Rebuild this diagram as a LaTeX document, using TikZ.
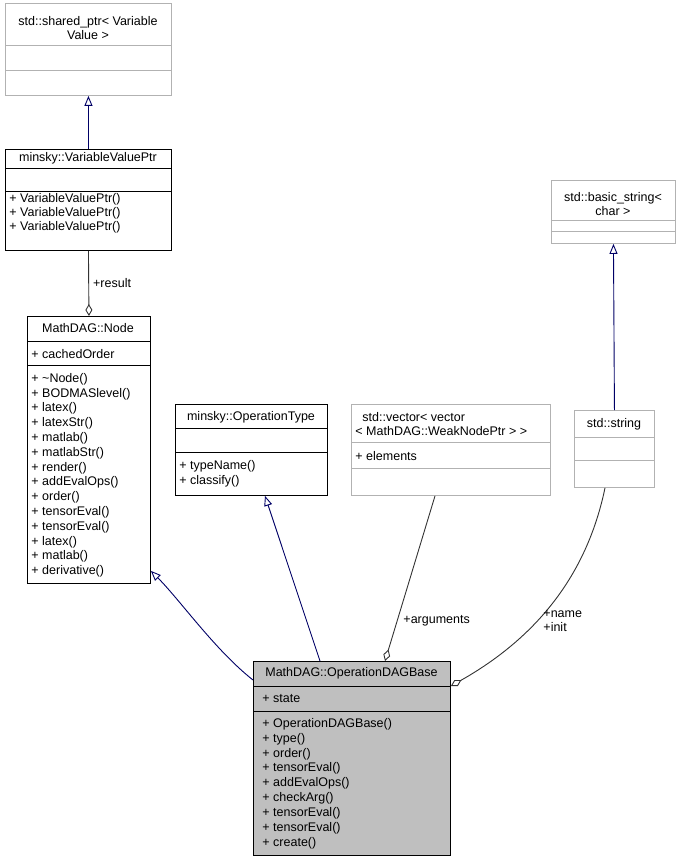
\documentclass[tikz,border=0pt]{standalone}
\usepackage{fontspec}
\setmainfont{Liberation Sans}
\usetikzlibrary{arrows.meta}
\tikzset{
  cls/.style={draw=black, anchor=north west, inner sep=0pt, fill=white},
  ext/.style={cls, draw=gray!60},
  txt/.style={anchor=west, inner sep=0pt, font=\fontsize{12.5}{14}\selectfont},
  ttl/.style={anchor=center, inner sep=0pt, font=\fontsize{12.5}{14}\selectfont, align=center},
  inh/.style={draw=blue!40!black, -{Triangle[open, length=10pt, width=8pt]}},
  agg/.style={draw=gray!40!black, -{Diamond[open, length=12pt, width=7pt]}},
  lbl/.style={inner sep=0pt, font=\fontsize{12.5}{14}\selectfont, align=left},
}
\begin{document}
\begin{tikzpicture}[x=1pt,y=-1pt,line width=0.9pt]
\useasboundingbox (0,0) rectangle (681,861);
% std::shared_ptr
\node[ext, minimum width=166pt, minimum height=92pt] (sptr) at (5,3) {};
\node[ttl] (sptrT) at (88,28) {std::shared\_ptr< Variable\\Value >};
\draw[gray!60] (5,45) -- (171,45) (5,70) -- (171,70);
% minsky::VariableValuePtr
\node[cls, minimum width=166pt, minimum height=101pt] (vvp) at (5,149) {};
\node[ttl] (vvpT) at (88,158) {minsky::VariableValuePtr};
\draw (5,168) -- (171,168) (5,191) -- (171,191);
\foreach \t [count=\i from 0] in {VariableValuePtr(),VariableValuePtr(),VariableValuePtr()}
  \node[txt] (vvpM\i) at (9,199+14*\i) {+ \t};
% MathDAG::Node
\node[cls, minimum width=123pt, minimum height=267pt] (node) at (27,316) {};
\node[ttl] (nodeT) at (88,328) {MathDAG::Node};
\draw (27,341) -- (150,341) (27,365) -- (150,365);
\node[txt] (nodeA) at (31,354) {+ cachedOrder};
\foreach \t [count=\i from 0] in {\textasciitilde Node(),BODMASlevel(),latex(),latexStr(),matlab(),matlabStr(),render(),addEvalOps(),order(),tensorEval(),tensorEval(),latex(),matlab(),derivative()}
  \node[txt] (nodeM\i) at (31,379+14.8*\i) {+ \t};
% minsky::OperationType
\node[cls, minimum width=152pt, minimum height=91pt] (optype) at (175,404) {};
\node[ttl] (optypeT) at (251,417) {minsky::OperationType};
\draw (175,428) -- (327,428) (175,452) -- (327,452);
\node[txt] (optypeM0) at (179,466) {+ typeName()};
\node[txt] (optypeM1) at (179,481) {+ classify()};
% std::vector
\node[ext, minimum width=199pt, minimum height=91pt] (vec) at (351,404) {};
\node[txt] (vecT) at (362,417) {std::vector< vector};
\node[txt] (vecT2) at (355,431) {< MathDAG::WeakNodePtr > >};
\draw[gray!60] (351,442) -- (550,442) (351,468) -- (550,468);
\node[txt] (vecA) at (355,456) {+ elements};
% std::basic_string
\node[ext, minimum width=124pt, minimum height=63pt] (bstr) at (551,180) {};
\node[ttl] (bstrT) at (613,204) {std::basic\_string<\\char >};
\draw[gray!60] (551,220) -- (675,220) (551,231) -- (675,231);
% std::string
\node[ext, minimum width=80pt, minimum height=77pt] (str) at (574,410) {};
\node[ttl] (strT) at (614,424) {std::string};
\draw[gray!60] (574,437) -- (654,437) (574,460) -- (654,460);
% MathDAG::OperationDAGBase
\node[cls, fill=gray!50, minimum width=197pt, minimum height=194pt] (opdag) at (253,661) {};
\node[ttl] (opdagT) at (351.5,673) {MathDAG::OperationDAGBase};
\draw (253,686) -- (450,686) (253,711) -- (450,711);
\node[txt] (opdagA) at (262,699) {+ state};
\foreach \t [count=\i from 0] in {OperationDAGBase(),type(),order(),tensorEval(),addEvalOps(),checkArg(),tensorEval(),tensorEval(),create()}
  \node[txt] (opdagM\i) at (262,724+14.9*\i) {+ \t};
% connectors
\draw[inh] (vvp.north) -- (sptr.south);
\draw[agg] (vvp.south) -- node[lbl, right=4pt, pos=0.5] {+result} (node.north);
\draw[inh] ([yshift=-19pt]opdag.north west) .. controls (215,650) and (180,600) .. ([yshift=13pt]node.south east);
\draw[inh] ([xshift=67pt]opdag.north west) -- ([xshift=90pt]optype.south west);
\draw[agg] ([xshift=84pt]vec.south west) -- ([xshift=132pt]opdag.north west);
\node[lbl, anchor=west] (argL) at (403,621) {+arguments};
\draw[inh] (str.north) -- (bstr.south);
\draw[agg] ([xshift=31pt]str.south west) .. controls (590,560) and (550,630) .. ([yshift=-25pt]opdag.north east);
\node[lbl, anchor=west] (nameL) at (543,621) {+name\\+init};
\end{tikzpicture}
\end{document}
